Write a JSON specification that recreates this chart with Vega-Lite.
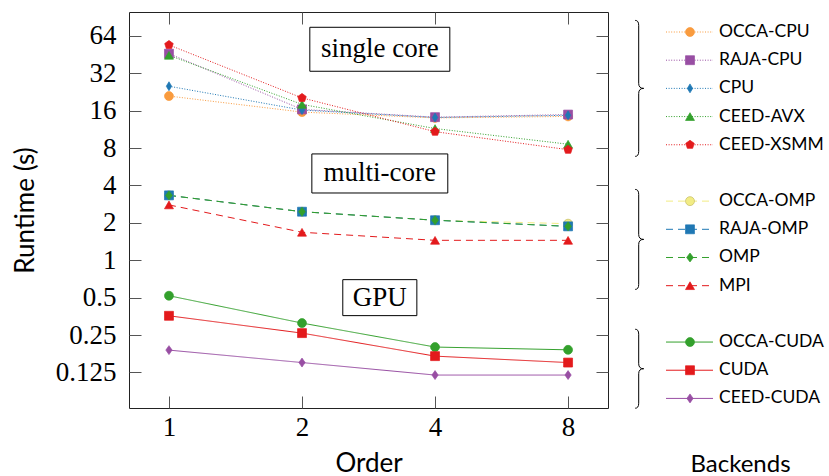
{
  "$schema": "https://vega.github.io/schema/vega-lite/v6.json",
  "padding": {"left": 11, "top": 11, "right": 0, "bottom": 0},
  "spacing": 0,
  "config": {
    "view": {"stroke": "#222", "strokeWidth": 1},
    "axis": {"grid": false, "domain": false},
    "font": "Lato"
  },
  "datasets": {
    "series": [
      {"backend": "OCCA-CPU", "group": "single", "order": 1, "runtime": 21.0},
      {"backend": "OCCA-CPU", "group": "single", "order": 2, "runtime": 15.6},
      {"backend": "OCCA-CPU", "group": "single", "order": 4, "runtime": 14.0},
      {"backend": "OCCA-CPU", "group": "single", "order": 8, "runtime": 14.4},
      {"backend": "RAJA-CPU", "group": "single", "order": 1, "runtime": 46.1},
      {"backend": "RAJA-CPU", "group": "single", "order": 2, "runtime": 16.4},
      {"backend": "RAJA-CPU", "group": "single", "order": 4, "runtime": 14.2},
      {"backend": "RAJA-CPU", "group": "single", "order": 8, "runtime": 14.9},
      {"backend": "CPU", "group": "single", "order": 1, "runtime": 25.2},
      {"backend": "CPU", "group": "single", "order": 2, "runtime": 16.2},
      {"backend": "CPU", "group": "single", "order": 4, "runtime": 14.1},
      {"backend": "CPU", "group": "single", "order": 8, "runtime": 14.7},
      {"backend": "CEED-AVX", "group": "single", "order": 1, "runtime": 44.7},
      {"backend": "CEED-AVX", "group": "single", "order": 2, "runtime": 18.0},
      {"backend": "CEED-AVX", "group": "single", "order": 4, "runtime": 11.5},
      {"backend": "CEED-AVX", "group": "single", "order": 8, "runtime": 8.6},
      {"backend": "CEED-XSMM", "group": "single", "order": 1, "runtime": 54.2},
      {"backend": "CEED-XSMM", "group": "single", "order": 2, "runtime": 20.3},
      {"backend": "CEED-XSMM", "group": "single", "order": 4, "runtime": 10.85},
      {"backend": "CEED-XSMM", "group": "single", "order": 8, "runtime": 7.77},
      {"backend": "OCCA-OMP", "group": "multi", "order": 1, "runtime": 3.33},
      {"backend": "OCCA-OMP", "group": "multi", "order": 2, "runtime": 2.46},
      {"backend": "OCCA-OMP", "group": "multi", "order": 4, "runtime": 2.10},
      {"backend": "OCCA-OMP", "group": "multi", "order": 8, "runtime": 1.97},
      {"backend": "RAJA-OMP", "group": "multi", "order": 1, "runtime": 3.33},
      {"backend": "RAJA-OMP", "group": "multi", "order": 2, "runtime": 2.46},
      {"backend": "RAJA-OMP", "group": "multi", "order": 4, "runtime": 2.10},
      {"backend": "RAJA-OMP", "group": "multi", "order": 8, "runtime": 1.875},
      {"backend": "OMP", "group": "multi", "order": 1, "runtime": 3.33},
      {"backend": "OMP", "group": "multi", "order": 2, "runtime": 2.46},
      {"backend": "OMP", "group": "multi", "order": 4, "runtime": 2.10},
      {"backend": "OMP", "group": "multi", "order": 8, "runtime": 1.875},
      {"backend": "MPI", "group": "multi", "order": 1, "runtime": 2.79},
      {"backend": "MPI", "group": "multi", "order": 2, "runtime": 1.68},
      {"backend": "MPI", "group": "multi", "order": 4, "runtime": 1.447},
      {"backend": "MPI", "group": "multi", "order": 8, "runtime": 1.447},
      {"backend": "OCCA-CUDA", "group": "gpu", "order": 1, "runtime": 0.518},
      {"backend": "OCCA-CUDA", "group": "gpu", "order": 2, "runtime": 0.312},
      {"backend": "OCCA-CUDA", "group": "gpu", "order": 4, "runtime": 0.200},
      {"backend": "OCCA-CUDA", "group": "gpu", "order": 8, "runtime": 0.190},
      {"backend": "CUDA", "group": "gpu", "order": 1, "runtime": 0.357},
      {"backend": "CUDA", "group": "gpu", "order": 2, "runtime": 0.259},
      {"backend": "CUDA", "group": "gpu", "order": 4, "runtime": 0.169},
      {"backend": "CUDA", "group": "gpu", "order": 8, "runtime": 0.150},
      {"backend": "CEED-CUDA", "group": "gpu", "order": 1, "runtime": 0.189},
      {"backend": "CEED-CUDA", "group": "gpu", "order": 2, "runtime": 0.150},
      {"backend": "CEED-CUDA", "group": "gpu", "order": 4, "runtime": 0.119},
      {"backend": "CEED-CUDA", "group": "gpu", "order": 8, "runtime": 0.119}
    ],
    "labels": [
      {"label": "single core", "order": 3, "runtime": 50},
      {"label": "multi-core", "order": 3, "runtime": 5},
      {"label": "GPU", "order": 3, "runtime": 0.5}
    ],
    "legend": [
      {"backend": "OCCA-CPU", "group": "single", "row": 0},
      {"backend": "RAJA-CPU", "group": "single", "row": 1},
      {"backend": "CPU", "group": "single", "row": 2},
      {"backend": "CEED-AVX", "group": "single", "row": 3},
      {"backend": "CEED-XSMM", "group": "single", "row": 4},
      {"backend": "OCCA-OMP", "group": "multi", "row": 6},
      {"backend": "RAJA-OMP", "group": "multi", "row": 7},
      {"backend": "OMP", "group": "multi", "row": 8},
      {"backend": "MPI", "group": "multi", "row": 9},
      {"backend": "OCCA-CUDA", "group": "gpu", "row": 11},
      {"backend": "CUDA", "group": "gpu", "row": 12},
      {"backend": "CEED-CUDA", "group": "gpu", "row": 13}
    ]
  },
  "hconcat": [
    {
      "width": 479,
      "height": 396,
      "layer": [
        {
          "data": {"name": "series"},
          "mark": {"type": "line", "strokeWidth": 1},
          "encoding": {
            "x": {"field": "order", "type": "quantitative",
              "scale": {"type": "log", "base": 2, "domain": [0.812, 9.85], "nice": false},
              "axis": {"orient": "bottom", "values": [1, 2, 4, 8], "format": "~g", "tickSize": -12, "tickColor": "#555", "tickWidth": 1,
                "labelFont": "Liberation Serif", "labelFontSize": 27, "labelColor": "#000", "labelPadding": 18, "labelFlush": false, "labelOverlap": false,
                "title": "Order", "titleFont": "Lato", "titleFontSize": 26, "titleFontWeight": "normal", "titleColor": "#000", "titleBaseline": "alphabetic", "titleY": 63}},
            "y": {"field": "runtime", "type": "quantitative",
              "scale": {"type": "log", "base": 2, "domain": [0.0646, 99.8], "nice": false},
              "axis": {"orient": "left", "values": [0.125, 0.25, 0.5, 1, 2, 4, 8, 16, 32, 64], "format": "~g", "tickSize": -12, "tickColor": "#555", "tickWidth": 1,
                "labelFont": "Liberation Serif", "labelFontSize": 27, "labelColor": "#000", "labelPadding": 25, "labelFlush": false, "labelOverlap": false,
                "title": "Runtime (s)", "titleFont": "Lato", "titleFontSize": 26, "titleFontWeight": "normal", "titleColor": "#000", "titleBaseline": "alphabetic", "titleX": -96, "titleY": 198}},
            "color": {"field": "backend", "type": "nominal", "legend": null,
              "scale": {"domain": ["OCCA-CPU", "RAJA-CPU", "CPU", "CEED-AVX", "CEED-XSMM", "OCCA-OMP", "RAJA-OMP", "OMP", "MPI", "OCCA-CUDA", "CUDA", "CEED-CUDA"],
                "range": ["#f99b3e", "#984ea3", "#1f78b4", "#33a02c", "#e31a1c", "#f2ec84", "#1f78b4", "#33a02c", "#e31a1c", "#33a02c", "#e31a1c", "#984ea3"]}},
            "strokeDash": {"field": "group", "type": "nominal", "legend": null,
              "scale": {"domain": ["single", "multi", "gpu"], "range": [[1, 1.6], [7, 5], [1, 0]]}},
            "detail": {"field": "backend"}
          }
        },
        {
          "data": {"name": "series"},
          "mark": {"type": "point", "filled": true, "opacity": 1, "strokeWidth": 0.7},
          "encoding": {
            "x": {"field": "order", "type": "quantitative",
              "axis": {"orient": "top", "values": [1, 2, 4, 8], "labels": false, "tickSize": -12, "tickColor": "#555", "tickWidth": 1, "title": null}},
            "y": {"field": "runtime", "type": "quantitative",
              "axis": {"orient": "right", "values": [0.125, 0.25, 0.5, 1, 2, 4, 8, 16, 32, 64], "labels": false, "tickSize": -12, "tickColor": "#555", "tickWidth": 1, "title": null}},
            "color": {"field": "backend", "type": "nominal", "legend": null},
            "stroke": {"field": "backend", "type": "nominal", "legend": null,
              "scale": {"domain": ["OCCA-CPU", "RAJA-CPU", "CPU", "CEED-AVX", "CEED-XSMM", "OCCA-OMP", "RAJA-OMP", "OMP", "MPI", "OCCA-CUDA", "CUDA", "CEED-CUDA"],
                "range": ["#f99b3e", "#984ea3", "#1f78b4", "#33a02c", "#e31a1c", "#c4bc62", "#1f78b4", "#33a02c", "#e31a1c", "#33a02c", "#e31a1c", "#984ea3"]}},
            "shape": {"field": "backend", "type": "nominal", "legend": null,
              "scale": {"domain": ["OCCA-CPU", "RAJA-CPU", "CPU", "CEED-AVX", "CEED-XSMM", "OCCA-OMP", "RAJA-OMP", "OMP", "MPI", "OCCA-CUDA", "CUDA", "CEED-CUDA"],
                "range": ["circle", "square", "M 0 -1 L 0.6 0 L 0 1 L -0.6 0 Z", "triangle-up", "M 0 -1 L 0.951 -0.309 L 0.588 0.809 L -0.588 0.809 L -0.951 -0.309 Z", "circle", "square", "M 0 -1 L 0.75 0 L 0 1 L -0.75 0 Z", "triangle-up", "circle", "square", "M 0 -1 L 0.7 0 L 0 1 L -0.7 0 Z"]}},
            "size": {"field": "backend", "type": "nominal", "legend": null,
              "scale": {"domain": ["OCCA-CPU", "RAJA-CPU", "CPU", "CEED-AVX", "CEED-XSMM", "OCCA-OMP", "RAJA-OMP", "OMP", "MPI", "OCCA-CUDA", "CUDA", "CEED-CUDA"],
                "range": [80, 80, 80, 90, 85, 64, 80, 50, 70, 90, 90, 64]}}
          }
        },
        {
          "data": {"name": "labels"},
          "transform": [{"filter": "datum.label == 'single core'"}],
          "mark": {"type": "point", "filled": true, "fill": "white", "stroke": "black", "strokeWidth": 1, "opacity": 1, "size": 19600,
            "shape": "M -1 -0.314 L 1 -0.314 L 1 0.314 L -1 0.314 Z"},
          "encoding": {
            "x": {"field": "order", "type": "quantitative", "axis": null},
            "y": {"field": "runtime", "type": "quantitative", "axis": null}
          }
        },
        {
          "data": {"name": "labels"},
          "transform": [{"filter": "datum.label == 'multi-core'"}],
          "mark": {"type": "point", "filled": true, "fill": "white", "stroke": "black", "strokeWidth": 1, "opacity": 1, "size": 19600,
            "shape": "M -0.971 -0.279 L 0.971 -0.279 L 0.971 0.279 L -0.971 0.279 Z"},
          "encoding": {
            "x": {"field": "order", "type": "quantitative", "axis": null},
            "y": {"field": "runtime", "type": "quantitative", "axis": null}
          }
        },
        {
          "data": {"name": "labels"},
          "transform": [{"filter": "datum.label == 'GPU'"}],
          "mark": {"type": "point", "filled": true, "fill": "white", "stroke": "black", "strokeWidth": 1, "opacity": 1, "size": 19600,
            "shape": "M -0.529 -0.257 L 0.529 -0.257 L 0.529 0.257 L -0.529 0.257 Z"},
          "encoding": {
            "x": {"field": "order", "type": "quantitative", "axis": null},
            "y": {"field": "runtime", "type": "quantitative", "axis": null}
          }
        },
        {
          "data": {"name": "labels"},
          "mark": {"type": "text", "font": "Liberation Serif", "fontSize": 27, "color": "#000", "align": "center", "baseline": "middle"},
          "encoding": {
            "x": {"field": "order", "type": "quantitative", "axis": null},
            "y": {"field": "runtime", "type": "quantitative", "axis": null},
            "text": {"field": "label"}
          }
        }
      ],
      "resolve": {"axis": {"x": "independent", "y": "independent"}}
    },
    {
      "width": 222,
      "height": 396,
      "view": {"stroke": null},
      "data": {"name": "legend"},
      "layer": [
        {
          "mark": {"type": "rule", "strokeWidth": 1},
          "encoding": {
            "x": {"datum": 57, "type": "quantitative",
              "scale": {"domain": [0, 222], "nice": false, "zero": false},
              "axis": {"orient": "bottom", "ticks": false, "labels": false, "domain": false, "grid": false,
                "title": "Backends", "titleFont": "Lato", "titleFontSize": 24, "titleFontWeight": "normal", "titleColor": "#000", "titleBaseline": "alphabetic", "titleX": 131, "titleY": 63}},
            "x2": {"datum": 104},
            "y": {"field": "row", "type": "quantitative", "scale": {"domain": [-0.71, 13.34], "reverse": true, "nice": false, "zero": false}, "axis": null},
            "color": {"field": "backend", "type": "nominal", "legend": null,
              "scale": {"domain": ["OCCA-CPU", "RAJA-CPU", "CPU", "CEED-AVX", "CEED-XSMM", "OCCA-OMP", "RAJA-OMP", "OMP", "MPI", "OCCA-CUDA", "CUDA", "CEED-CUDA"],
                "range": ["#f99b3e", "#984ea3", "#1f78b4", "#33a02c", "#e31a1c", "#f2ec84", "#1f78b4", "#33a02c", "#e31a1c", "#33a02c", "#e31a1c", "#984ea3"]}},
            "strokeDash": {"field": "group", "type": "nominal", "legend": null,
              "scale": {"domain": ["single", "multi", "gpu"], "range": [[1, 1.6], [7, 5], [1, 0]]}}
          }
        },
        {
          "mark": {"type": "point", "filled": true, "opacity": 1, "strokeWidth": 0.7},
          "encoding": {
            "x": {"datum": 81, "type": "quantitative"},
            "y": {"field": "row", "type": "quantitative"},
            "color": {"field": "backend", "type": "nominal", "legend": null},
            "stroke": {"field": "backend", "type": "nominal", "legend": null,
              "scale": {"domain": ["OCCA-CPU", "RAJA-CPU", "CPU", "CEED-AVX", "CEED-XSMM", "OCCA-OMP", "RAJA-OMP", "OMP", "MPI", "OCCA-CUDA", "CUDA", "CEED-CUDA"],
                "range": ["#f99b3e", "#984ea3", "#1f78b4", "#33a02c", "#e31a1c", "#c4bc62", "#1f78b4", "#33a02c", "#e31a1c", "#33a02c", "#e31a1c", "#984ea3"]}},
            "shape": {"field": "backend", "type": "nominal", "legend": null,
              "scale": {"domain": ["OCCA-CPU", "RAJA-CPU", "CPU", "CEED-AVX", "CEED-XSMM", "OCCA-OMP", "RAJA-OMP", "OMP", "MPI", "OCCA-CUDA", "CUDA", "CEED-CUDA"],
                "range": ["circle", "square", "M 0 -1 L 0.6 0 L 0 1 L -0.6 0 Z", "triangle-up", "M 0 -1 L 0.951 -0.309 L 0.588 0.809 L -0.588 0.809 L -0.951 -0.309 Z", "circle", "square", "M 0 -1 L 0.75 0 L 0 1 L -0.75 0 Z", "triangle-up", "circle", "square", "M 0 -1 L 0.7 0 L 0 1 L -0.7 0 Z"]}},
            "size": {"field": "backend", "type": "nominal", "legend": null,
              "scale": {"domain": ["OCCA-CPU", "RAJA-CPU", "CPU", "CEED-AVX", "CEED-XSMM", "OCCA-OMP", "RAJA-OMP", "OMP", "MPI", "OCCA-CUDA", "CUDA", "CEED-CUDA"],
                "range": [80, 80, 80, 90, 85, 64, 80, 50, 70, 90, 90, 64]}}
          }
        },
        {
          "mark": {"type": "text", "font": "Lato", "fontSize": 17.5, "color": "#000", "align": "left", "baseline": "middle"},
          "encoding": {
            "x": {"datum": 110, "type": "quantitative"},
            "y": {"field": "row", "type": "quantitative"},
            "text": {"field": "backend"}
          }
        },
        {
          "transform": [{"filter": "datum.group == 'single'"}],
          "mark": {"type": "point", "filled": false, "stroke": "#000", "strokeWidth": 1, "opacity": 1, "size": 10000,
            "shape": "M -0.07 -1.36 Q 0 -1.36 0 -1.26 L 0 -0.1 Q 0 0 0.1 0 Q 0 0 0 0.1 L 0 1.26 Q 0 1.36 -0.07 1.36"},
          "encoding": {
            "x": {"datum": 29.7, "type": "quantitative"},
            "y": {"aggregate": "mean", "field": "row", "type": "quantitative"}
          }
        },
        {
          "transform": [{"filter": "datum.group == 'multi'"}],
          "mark": {"type": "point", "filled": false, "stroke": "#000", "strokeWidth": 1, "opacity": 1, "size": 10000,
            "shape": "M -0.07 -1.08 Q 0 -1.08 0 -0.98 L 0 -0.18 Q 0 -0.08 0.1 -0.08 Q 0 -0.08 0 0.02 L 0 0.82 Q 0 0.92 -0.07 0.92"},
          "encoding": {
            "x": {"datum": 29.7, "type": "quantitative"},
            "y": {"aggregate": "mean", "field": "row", "type": "quantitative"}
          }
        },
        {
          "transform": [{"filter": "datum.group == 'gpu'"}],
          "mark": {"type": "point", "filled": false, "stroke": "#000", "strokeWidth": 1, "opacity": 1, "size": 10000,
            "shape": "M -0.07 -0.82 Q 0 -0.82 0 -0.72 L 0 -0.13 Q 0 -0.03 0.1 -0.03 Q 0 -0.03 0 0.07 L 0 0.66 Q 0 0.76 -0.07 0.76"},
          "encoding": {
            "x": {"datum": 29.7, "type": "quantitative"},
            "y": {"aggregate": "mean", "field": "row", "type": "quantitative"}
          }
        }
      ]
    }
  ]
}
